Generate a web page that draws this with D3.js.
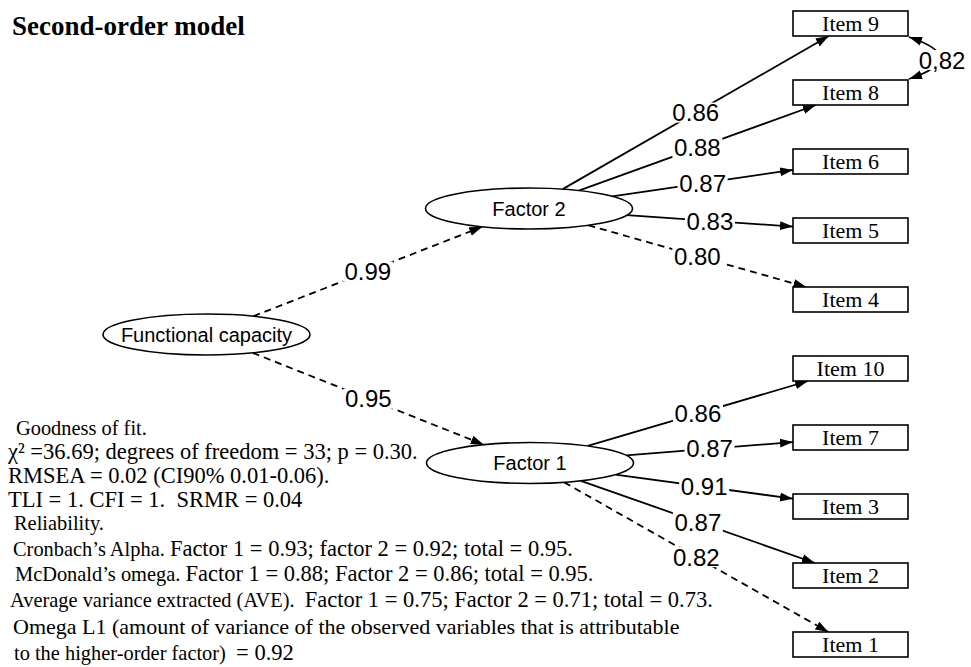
<!DOCTYPE html>
<html>
<head>
<meta charset="utf-8">
<script src="https://cdn.jsdelivr.net/npm/d3@7"></script>
<style>
  body { margin: 0; background: #fff; }
  svg text { white-space: pre; }
</style>
</head>
<body>
<div id="chart"></div>
<script>
// values
var factor2Items = ["Item 9", "Item 8", "Item 6", "Item 5", "Item 4"];
var factor2Loadings = [0.86, 0.88, 0.87, 0.83, 0.80];
var factor1Items = ["Item 10", "Item 7", "Item 3", "Item 2", "Item 1"];
var factor1Loadings = [0.86, 0.87, 0.91, 0.87, 0.82];
var firstOrderFactors = ["Factor 2", "Factor 1"];
var secondOrderLoadings = [0.99, 0.95];
var fixedPaths = ["Factor 2", "Factor 1", "Item 4", "Item 1"];   // drawn dashed
var covItems = ["Item 9", "Item 8"];
var covValue = 0.82;

var noteLabels = ["Goodness of fit.", "", "", "", "Reliability.",
    "Cronbach\u2019s Alpha. ", "McDonald\u2019s omega. ", "Average variance extracted (AVE).  ",
    "", "to the higher-order factor)  "];
var noteValues = ["", "\u03c7\u00b2 =36.69; degrees of freedom = 33; p = 0.30.",
    "RMSEA = 0.02 (CI90% 0.01-0.06).", "TLI = 1. CFI = 1.  SRMR = 0.04", "",
    "Factor 1 = 0.93; factor 2 = 0.92; total = 0.95.",
    "Factor 1 = 0.88; Factor 2 = 0.86; total = 0.95.",
    "Factor 1 = 0.75; Factor 2 = 0.71; total = 0.73.",
    "Omega L1 (amount of variance of the observed variables that is attributable",
    "= 0.92"];

PathDiagram = function(_parentElement){
    this.parentElement = _parentElement;
    this.initVis();
};

PathDiagram.prototype.initVis = function(){
    var vis = this;
    vis.width = 971;
    vis.height = 667;

    vis.svg = d3.select(vis.parentElement).append("svg")
        .attr("width", vis.width)
        .attr("height", vis.height);

    var defs = vis.svg.append("defs");
    defs.append("marker")
        .attr("id", "arrow")
        .attr("viewBox", "0 -5 13 10")
        .attr("refX", 13).attr("refY", 0)
        .attr("markerUnits", "userSpaceOnUse")
        .attr("markerWidth", 13).attr("markerHeight", 10)
        .attr("orient", "auto-start-reverse")
      .append("path")
        .attr("d", "M0,-4.5L13,0L0,4.5Z")
        .attr("fill", "#000");

    // item boxes stacked top to bottom
    vis.y = d3.scalePoint()
        .domain(factor2Items.concat(factor1Items))
        .range([23.5, 644.5]);

    vis.box = { cx: 850.5, w: 115, h: 25 };
    vis.ell = { rx: 103.5, ry: 20.5 };
    vis.latent = {
        "Functional capacity": { x: 206.5, y: 334.5 },
        "Factor 2": { x: 529, y: 208.5 },
        "Factor 1": { x: 530, y: 463 }
    };

    vis.fmt = d3.format(".2f");
    vis.update();
};

PathDiagram.prototype.nodePos = function(name){
    var vis = this;
    if (vis.latent[name]) return { x: vis.latent[name].x, y: vis.latent[name].y, kind: "ell" };
    return { x: vis.box.cx, y: vis.y(name), kind: "box" };
};

// distance factor from centre to the node outline along (dx, dy)
PathDiagram.prototype.clipT = function(node, dx, dy){
    var vis = this;
    if (node.kind === "ell") {
        return 1 / Math.sqrt(Math.pow(dx / vis.ell.rx, 2) + Math.pow(dy / vis.ell.ry, 2));
    }
    var hw = vis.box.w / 2, hh = vis.box.h / 2;
    return Math.min(dx ? hw / Math.abs(dx) : Infinity, dy ? hh / Math.abs(dy) : Infinity);
};

PathDiagram.prototype.update = function(){
    var vis = this;

    var edges = [];
    firstOrderFactors.forEach(function(f, i){
        edges.push({ from: "Functional capacity", to: f, value: secondOrderLoadings[i] });
    });
    factor2Items.forEach(function(it, i){
        edges.push({ from: "Factor 2", to: it, value: factor2Loadings[i] });
    });
    factor1Items.forEach(function(it, i){
        edges.push({ from: "Factor 1", to: it, value: factor1Loadings[i] });
    });

    edges.forEach(function(e){
        var s = vis.nodePos(e.from), t = vis.nodePos(e.to);
        var dx = t.x - s.x, dy = t.y - s.y;
        var ts = vis.clipT(s, dx, dy), tt = vis.clipT(t, -dx, -dy);
        e.x1 = s.x + dx * ts; e.y1 = s.y + dy * ts;
        e.x2 = t.x - dx * tt; e.y2 = t.y - dy * tt;
        e.mx = (e.x1 + e.x2) / 2; e.my = (e.y1 + e.y2) / 2;
    });

    var gEdges = vis.svg.append("g");
    gEdges.selectAll("line")
        .data(edges)
        .enter().append("line")
        .attr("x1", function(d){ return d.x1; })
        .attr("y1", function(d){ return d.y1; })
        .attr("x2", function(d){ return d.x2; })
        .attr("y2", function(d){ return d.y2; })
        .attr("stroke", "#000")
        .attr("stroke-width", 1.8)
        .attr("stroke-dasharray", function(d){ return fixedPaths.indexOf(d.to) >= 0 ? "7,5" : null; })
        .attr("marker-end", "url(#arrow)");

    // covariance between Item 9 and Item 8
    var a = vis.nodePos(covItems[0]), b = vis.nodePos(covItems[1]);
    var xr = vis.box.cx + vis.box.w / 2 + 1;
    var p0 = [xr, a.y + vis.box.h / 2 + 1], p2 = [xr, b.y - vis.box.h / 2 - 1];
    var ctrl = [xr + 62, (p0[1] + p2[1]) / 2];
    var curve = d3.path();
    curve.moveTo(p0[0], p0[1]);
    curve.quadraticCurveTo(ctrl[0], ctrl[1], p2[0], p2[1]);
    gEdges.append("path")
        .attr("d", curve.toString())
        .attr("fill", "none")
        .attr("stroke", "#000")
        .attr("stroke-width", 1.8)
        .attr("marker-start", "url(#arrow)")
        .attr("marker-end", "url(#arrow)");

    var labels = edges.map(function(e){ return { x: e.mx, y: e.my, text: vis.fmt(e.value) }; });
    labels.push({
        x: 0.25 * p0[0] + 0.5 * ctrl[0] + 0.25 * p2[0] + 2,
        y: (p0[1] + p2[1]) / 2 + 2,
        text: vis.fmt(covValue).replace(".", ",")
    });

    var gLab = vis.svg.append("g").selectAll("g")
        .data(labels)
        .enter().append("g")
        .attr("transform", function(d){ return "translate(" + d.x + "," + d.y + ")"; });
    gLab.append("rect")
        .attr("x", -25).attr("y", -10)
        .attr("width", 50).attr("height", 20)
        .attr("fill", "#fff");
    gLab.append("text")
        .attr("text-anchor", "middle")
        .attr("dy", "0.36em")
        .style("font-family", "'Liberation Sans', Arial, sans-serif")
        .style("font-size", "24px")
        .text(function(d){ return d.text; });

    // latent variables
    var gLat = vis.svg.append("g").selectAll("g")
        .data(Object.keys(vis.latent))
        .enter().append("g")
        .attr("transform", function(d){ return "translate(" + vis.latent[d].x + "," + vis.latent[d].y + ")"; });
    gLat.append("ellipse")
        .attr("rx", vis.ell.rx).attr("ry", vis.ell.ry)
        .attr("fill", "#fff")
        .attr("stroke", "#000")
        .attr("stroke-width", 1.6);
    gLat.append("text")
        .attr("text-anchor", "middle")
        .attr("dy", "0.36em")
        .style("font-family", "'Liberation Sans', Arial, sans-serif")
        .style("font-size", "20px")
        .text(function(d){ return d; });

    // observed items
    var gItems = vis.svg.append("g").selectAll("g")
        .data(vis.y.domain())
        .enter().append("g")
        .attr("transform", function(d){ return "translate(" + vis.box.cx + "," + vis.y(d) + ")"; });
    gItems.append("rect")
        .attr("x", -vis.box.w / 2).attr("y", -vis.box.h / 2)
        .attr("width", vis.box.w).attr("height", vis.box.h)
        .attr("fill", "#fff")
        .attr("stroke", "#000")
        .attr("stroke-width", 1.6);
    gItems.append("text")
        .attr("text-anchor", "middle")
        .attr("dy", "0.34em")
        .style("font-family", "'Liberation Serif', 'Times New Roman', serif")
        .style("font-size", "22px")
        .text(function(d){ return d; });

    // title
    vis.svg.append("text")
        .attr("x", 12).attr("y", 35)
        .style("font-family", "'Liberation Serif', 'Times New Roman', serif")
        .style("font-weight", "bold")
        .style("font-size", "27px")
        .text("Second-order model");

    // fit and reliability notes
    var noteY = [435, 459, 483, 507, 530, 556, 581, 607, 634, 660];
    var noteX = [16, 8, 8, 8, 14, 13, 15, 10, 13, 14];
    var notes = vis.svg.append("g").selectAll("text")
        .data(noteLabels)
        .enter().append("text")
        .attr("x", function(d, i){ return noteX[i]; })
        .attr("y", function(d, i){ return noteY[i]; })
        .style("font-family", "'Liberation Serif', 'Times New Roman', serif");
    notes.append("tspan")
        .style("font-size", "20.4px")
        .text(function(d){ return d; });
    notes.append("tspan")
        .style("font-size", function(d, i){ return i === 8 ? "22px" : "22.5px"; })
        .text(function(d, i){ return noteValues[i]; });
};

new PathDiagram("#chart");
</script>
</body>
</html>
